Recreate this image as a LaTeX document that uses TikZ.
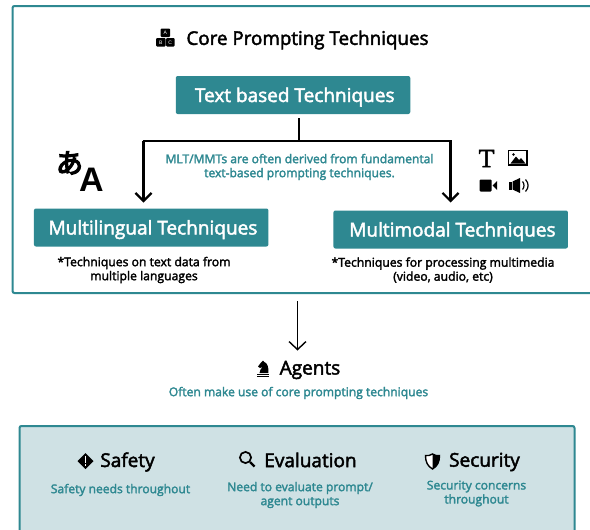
\documentclass[tikz,border=0pt]{standalone}
\usepackage{fontspec}
\setmainfont{Open Sans}[FakeBold=2.4]
\newfontfamily\cjkfont{Noto Sans CJK JP}[FakeBold=5]
\newfontfamily\serifT{Liberation Serif}[FakeBold=2]
\newfontfamily\capfont{Liberation Sans}
\usetikzlibrary{arrows.meta}
\definecolor{teal1}{HTML}{2E8891}
\definecolor{pale}{HTML}{CFE1E4}
\tikzset{
  panel/.style={draw=teal1,line width=2pt,rounded corners=2pt},
  tbox/.style={fill=teal1,text=white,rounded corners=2pt,minimum width=234.5pt,minimum height=38pt,inner sep=0pt,text height=14pt,text depth=0pt,font=\fontsize{19}{21}\selectfont},
  head/.style={inner sep=0pt,text=black,font=\fontsize{19}{21}\selectfont,anchor=center},
  tnote/.style={inner sep=0pt,text=teal1,align=center,font=\fontsize{12.1}{14}\selectfont,anchor=center},
  bnote/.style={inner sep=0pt,text=black,align=center,font=\fontsize{12.2}{14}\selectfont,anchor=center},
  bigarrow/.style={draw=black,line width=2.8pt,line cap=butt},
  tiparrow/.style={draw=black,line width=2.2pt,-{Straight Barb[length=8pt,width=16pt,line width=2.2pt]}},
  thinarrow/.style={draw=black,line width=1.4pt,-{Straight Barb[length=8pt,width=17pt,line width=1.4pt]}},
  keycap/.style={fill=black,rounded corners=1pt},
  capl/.style={inner sep=0pt,text=white,font=\capfont\fontsize{5}{5}\selectfont},
}
\begin{document}
\begin{tikzpicture}[x=1pt,y=-1pt]
\clip (0,0) rectangle (590,530);
\fill[white] (0,0) rectangle (590,530);
% panels
\draw[panel] (12.5,6) rectangle (600,293);
\draw[panel,fill=pale] (19.5,426) rectangle (574.5,540);
% title
\node[head,font=\fontsize{18.8}{21}\selectfont] (title) at (307.5,40) {Core Prompting Techniques};
\fill[keycap] (160.5,28.5) rectangle (170,37);
\fill[keycap] (156,38) rectangle (165.5,46.5);
\fill[keycap] (166,38) rectangle (174.5,46.5);
\node[capl] (ka) at (165.2,32.8) {A};
\node[capl] (kb) at (160.7,42.3) {B};
\node[capl] (kc) at (170.2,42.3) {C};
% boxes
\node[tbox] (text) at (293,95) {\hspace*{3.5pt}Text based Techniques};
\node[tbox] (ml) at (151.2,227.5) {\hspace*{3.5pt}Multilingual Techniques};
\node[tbox] (mm) at (450.7,229.5) {\hspace*{3.5pt}Multimodal Techniques};
% connectors
\coordinate (stem) at (299,118);
\coordinate (junction) at (299,141);
\coordinate (lend) at (143.5,202.5);
\coordinate (rend) at (450.5,202.5);
\coordinate (lcorner) at (lend |- junction);
\coordinate (rcorner) at (rend |- junction);
\draw[bigarrow] (stem) -- (junction);
\draw[bigarrow] ([xshift=-1pt]lcorner) -- ([xshift=1pt]rcorner);
\draw[tiparrow] (lcorner) -- (lend);
\draw[tiparrow] (rcorner) -- (rend);
% notes
\node[tnote] (derive) at (299.5,167) {MLT/MMTs are often derived from fundamental\\text-based prompting techniques.};
\node[bnote] (mlnote) at (144,270) {*Techniques on text data from\\multiple languages};
\node[bnote] (mmnote) at (443,270) {*Techniques for processing multimedia\\(video, audio, etc)};
% language icon
\node[inner sep=0pt,font=\cjkfont\fontsize{27}{27}\selectfont] (jp) at (69.5,163) {あ};
\node[inner sep=0pt,font=\capfont\bfseries\fontsize{34}{34}\selectfont] (la) at (91.5,179.5) {A};
% media icons
\node[inner sep=0pt,font=\serifT\fontsize{26}{26}\selectfont] (tt) at (486.5,158.5) {T};
\draw[black,line width=1.2pt] (508.5,150.5) rectangle (527,165);
\fill[black] (510.5,163.5) -- (516,156.5) -- (519,160) -- (521,158) -- (525.5,163.5) -- cycle;
\fill[black] (513.5,154.5) circle (1.3);
\fill[black,rounded corners=1pt] (479.5,179.5) rectangle (491.5,191.5);
\fill[black] (492.5,185.5) -- (497,181) -- (497,190) -- cycle;
\fill[black] (508.5,181.5) rectangle (511.5,189.5);
\fill[black] (512.5,181.5) -- (520,178) -- (520,193) -- (512.5,189.5) -- cycle;
\draw[black,line width=1.2pt] (522.5,181.5) .. controls (524.5,183.5) and (524.5,187.5) .. (522.5,189.5);
\draw[black,line width=1.2pt] (525.5,179.5) .. controls (529,183.5) and (529,187.5) .. (525.5,191.5);
% agents
\coordinate (astart) at (297.5,301);
\coordinate (aend) at (297.5,350.5);
\draw[thinarrow] (astart) -- (aend);
\node[head] (agents) at (310,370) {Agents};
\fill[black] (263,360.5) -- (264,361.8) .. controls (267.5,363) and (268.8,367) .. (268.3,373) -- (259.5,373) .. controls (259.5,370.5) and (261,369) .. (262.5,366.8) -- (260,368) -- (258,366.5) -- (261,362.5) -- cycle;
\fill[black] (257,374) rectangle (268.7,375.2);
\fill[black] (257,375.8) rectangle (268.7,377);
\node[tnote] (often) at (298.5,393) {Often make use of core prompting techniques};
% safety
\node[head] (safety) at (127.5,462) {Safety};
\fill[black] (85.5,453) -- (93.5,461) -- (85.5,469) -- (77.5,461) -- cycle;
\fill[white] (84.7,456) rectangle (86.3,462.5);
\fill[white] (84.7,463.8) rectangle (86.3,465.5);
\node[tnote] (safetyn) at (120.5,490) {Safety needs throughout};
% evaluation
\node[head] (eval) at (310.5,460) {Evaluation};
\draw[black,line width=1.7pt] (245.5,457.5) circle (5.6);
\draw[black,line width=2.2pt] (250,462) -- (254.5,466.5);
\node[tnote] (evaln) at (300,495) {Need to evaluate prompt/\\agent outputs};
% security
\node[head] (sec) at (484.5,462) {Security};
\draw[black,line width=1.4pt,fill=white] (432.5,454) .. controls (430,455.5) and (428,456) .. (425.5,455.5) .. controls (425.5,462) and (427.5,466) .. (432.5,469) .. controls (437.5,466) and (439.5,462) .. (439.5,455.5) .. controls (437,456) and (435,455.5) .. (432.5,454) -- cycle;
\fill[black] (432.5,454) .. controls (435,455.5) and (437,456) .. (439.5,455.5) .. controls (439.5,462) and (437.5,466) .. (432.5,469) -- cycle;
\node[tnote] (secn) at (476.5,493.5) {Security concerns\\throughout};
\end{tikzpicture}
\end{document}
